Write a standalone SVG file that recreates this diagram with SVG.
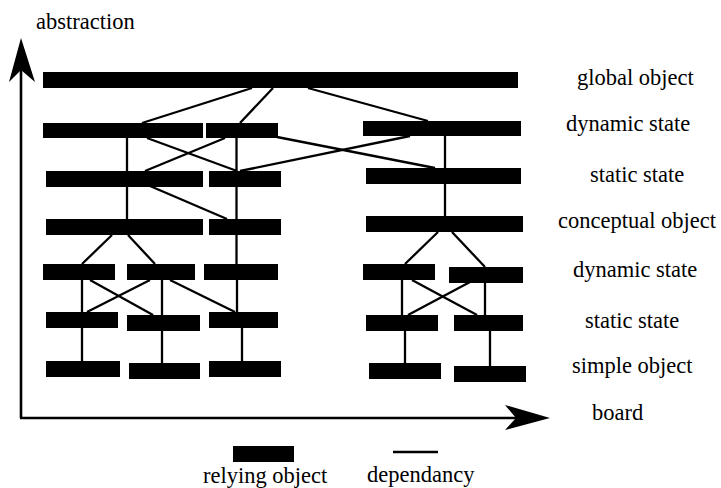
<svg xmlns="http://www.w3.org/2000/svg" width="721" height="488" viewBox="0 0 721 488">
<style>
.bar{fill:#000}
.dep{stroke:#000;stroke-width:2.3;fill:none}
.axis{stroke:#000;stroke-width:2.6;fill:none}
.lbl{font-family:'Liberation Serif','Times New Roman',Times,'DejaVu Serif',serif;font-size:22.5px;fill:#000}
</style>
<rect width="721" height="488" fill="#fff"/>
<g id="connectors">
<line class="dep" x1="252" y1="88" x2="142" y2="123"/>
<line class="dep" x1="273" y1="88" x2="240" y2="123"/>
<line class="dep" x1="308" y1="88" x2="428" y2="121"/>
<line class="dep" x1="147" y1="138" x2="237" y2="171"/>
<line class="dep" x1="225" y1="138" x2="145" y2="171"/>
<line class="dep" x1="277" y1="137" x2="435" y2="168"/>
<line class="dep" x1="240" y1="171" x2="410" y2="136"/>
<line class="dep" x1="127" y1="138" x2="127" y2="219"/>
<line class="dep" x1="236.5" y1="138" x2="236.5" y2="264"/>
<line class="dep" x1="150" y1="186" x2="227" y2="219"/>
<line class="dep" x1="445" y1="136" x2="445" y2="216"/>
<line class="dep" x1="112" y1="235" x2="82" y2="264"/>
<line class="dep" x1="128" y1="235" x2="155" y2="264"/>
<line class="dep" x1="438" y1="232" x2="405" y2="264"/>
<line class="dep" x1="452" y1="232" x2="485" y2="267"/>
<line class="dep" x1="82" y1="280" x2="82" y2="361"/>
<line class="dep" x1="90" y1="280" x2="153" y2="315"/>
<line class="dep" x1="150" y1="280" x2="87" y2="312"/>
<line class="dep" x1="162" y1="280" x2="162" y2="363"/>
<line class="dep" x1="170" y1="280" x2="235" y2="312"/>
<line class="dep" x1="237" y1="280" x2="237" y2="312"/>
<line class="dep" x1="242" y1="328" x2="242" y2="361"/>
<line class="dep" x1="402" y1="280" x2="402" y2="315"/>
<line class="dep" x1="412" y1="280" x2="477" y2="315"/>
<line class="dep" x1="470" y1="282" x2="408" y2="315"/>
<line class="dep" x1="485" y1="282" x2="485" y2="315"/>
<line class="dep" x1="405" y1="330" x2="405" y2="363"/>
<line class="dep" x1="490" y1="330" x2="490" y2="366"/>
</g>
<g id="axes">
<line class="axis" x1="21" y1="68" x2="21" y2="418"/>
<polygon points="21,38 35,82 21,70 9,82"/>
<line class="axis" x1="20" y1="418" x2="518" y2="418"/>
<polygon points="550,418 505,405 516,418 505,430"/>
<text class="lbl" x="36" y="29">abstraction</text>
<text class="lbl" x="592" y="420">board</text>
</g>
<g id="global-object"><rect class="bar" x="43" y="72" width="475" height="16"/><text class="lbl" x="577" y="85">global object</text></g>
<g id="dyn1-a"><rect class="bar" x="43" y="123" width="160" height="15"/></g>
<g id="dyn1-b"><rect class="bar" x="206" y="123" width="72" height="15"/></g>
<g id="dyn1-c"><rect class="bar" x="363" y="121" width="158" height="15"/><text class="lbl" x="566" y="131">dynamic state</text></g>
<g id="stat1-a"><rect class="bar" x="46" y="171" width="157" height="16"/></g>
<g id="stat1-b"><rect class="bar" x="209" y="171" width="72" height="16"/></g>
<g id="stat1-c"><rect class="bar" x="366" y="168" width="155" height="16"/><text class="lbl" x="590" y="182">static state</text></g>
<g id="concept-a"><rect class="bar" x="46" y="219" width="157" height="16"/></g>
<g id="concept-b"><rect class="bar" x="209" y="219" width="72" height="16"/></g>
<g id="concept-c"><rect class="bar" x="366" y="216" width="157" height="16"/><text class="lbl" x="558" y="228">conceptual object</text></g>
<g id="dyn2-a"><rect class="bar" x="43" y="264" width="72" height="16"/></g>
<g id="dyn2-b"><rect class="bar" x="127" y="264" width="68" height="16"/></g>
<g id="dyn2-c"><rect class="bar" x="204" y="264" width="74" height="16"/></g>
<g id="dyn2-d"><rect class="bar" x="363" y="264" width="72" height="16"/></g>
<g id="dyn2-e"><rect class="bar" x="449" y="267" width="74" height="16"/><text class="lbl" x="573" y="277">dynamic state</text></g>
<g id="stat2-a"><rect class="bar" x="46" y="312" width="72" height="16"/></g>
<g id="stat2-b"><rect class="bar" x="127" y="315" width="73" height="16"/></g>
<g id="stat2-c"><rect class="bar" x="209" y="312" width="69" height="16"/></g>
<g id="stat2-d"><rect class="bar" x="366" y="315" width="72" height="16"/></g>
<g id="stat2-e"><rect class="bar" x="454" y="315" width="69" height="16"/><text class="lbl" x="585" y="328">static state</text></g>
<g id="simple-a"><rect class="bar" x="46" y="361" width="74" height="16"/></g>
<g id="simple-b"><rect class="bar" x="129" y="363" width="71" height="16"/></g>
<g id="simple-c"><rect class="bar" x="209" y="361" width="72" height="16"/></g>
<g id="simple-d"><rect class="bar" x="369" y="363" width="72" height="16"/></g>
<g id="simple-e"><rect class="bar" x="454" y="366" width="72" height="16"/><text class="lbl" x="572" y="373">simple object</text></g>
<g id="legend">
<rect class="bar" x="233" y="446" width="61" height="16"/>
<text class="lbl" x="203" y="483">relying object</text>
<line class="dep" x1="393" y1="452" x2="438" y2="452"/>
<text class="lbl" x="367" y="482">dependancy</text>
</g>
</svg>
